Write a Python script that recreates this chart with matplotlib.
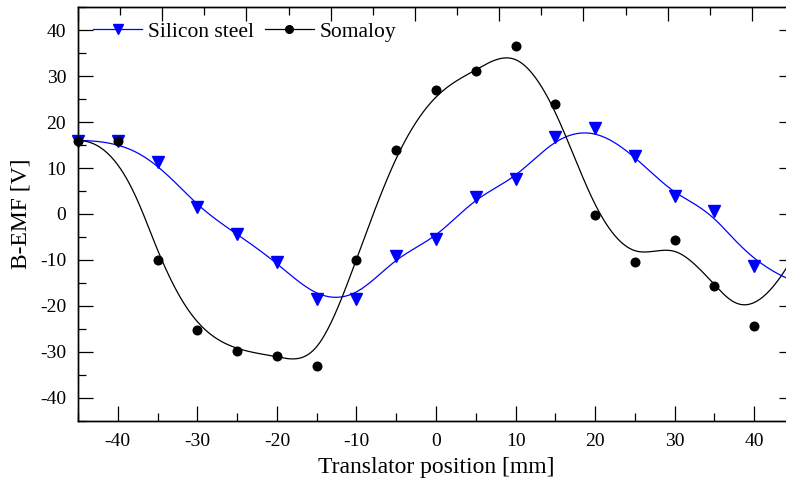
import numpy as np
import matplotlib
matplotlib.use("Agg")
import matplotlib.pyplot as plt
from matplotlib.ticker import MultipleLocator, NullFormatter

# ---- data ----
position_mm = [-45, -40, -35, -30, -25, -20, -15, -10, -5, 0, 5, 10, 15, 20, 25, 30, 35, 40, 45]
silicon_steel = [16.0, 16.0, 11.4, 1.5, -4.4, -10.5, -18.5, -18.5, -9.2, -5.4, 3.8, 7.6, 16.8, 18.7, 12.7, 3.9, 0.7, -11.3, -14.6]
somaloy = [16.0, 16.0, -10.0, -25.2, -29.8, -30.9, -33.1, -10.0, 13.9, 26.9, 31.2, 36.6, 24.0, -0.2, -10.5, -5.7, -15.6, -24.3, -9.0]

x_ticks = [-40, -30, -20, -10, 0, 10, 20, 30, 40]
y_ticks = [-40, -30, -20, -10, 0, 10, 20, 30, 40]


def bspline(xs, ys, k=3, num=800):
    """Clamped uniform B-spline using the data points as control points."""
    P = np.column_stack([xs, ys]).astype(float)
    n = len(P)
    inner = np.arange(1, n - k)
    knots = np.concatenate([np.zeros(k + 1), inner, np.full(k + 1, n - k)]).astype(float)
    t = np.linspace(0, n - k, num)
    t[-1] -= 1e-9

    def basis(i, p, tt):
        if p == 0:
            return ((knots[i] <= tt) & (tt < knots[i + 1])).astype(float)
        out = np.zeros_like(tt)
        d1 = knots[i + p] - knots[i]
        d2 = knots[i + p + 1] - knots[i + 1]
        if d1 > 0:
            out += (tt - knots[i]) / d1 * basis(i, p - 1, tt)
        if d2 > 0:
            out += (knots[i + p + 1] - tt) / d2 * basis(i + 1, p - 1, tt)
        return out

    B = np.array([basis(i, k, t) for i in range(n)])
    C = B.T @ P
    return C[:, 0], C[:, 1]


plt.rcParams['font.family'] = ['Liberation Serif', 'DejaVu Serif']
plt.rcParams['axes.unicode_minus'] = False

W, H = 786, 479
fig = plt.figure(figsize=(W / 100, H / 100), dpi=100)
left_px, right_px, top_px, bottom_px = 78, 794, 7.3, 420.7
ax = fig.add_axes([left_px / W, 1 - bottom_px / H, (right_px - left_px) / W, (bottom_px - top_px) / H])

sx, sy = bspline(position_mm, silicon_steel)
mx, my = bspline(position_mm, somaloy)

ax.plot(sx, sy, color='#0000ff', lw=0.9, zorder=2)
ax.plot(mx, my, color='black', lw=0.9, zorder=2)
ax.plot(position_mm, silicon_steel, ls='none', marker='v', ms=8, color='#0000ff', clip_on=False, zorder=3)
ax.plot(position_mm, somaloy, ls='none', marker='o', ms=6.2, color='black', clip_on=False, zorder=3)

# legend proxies
h1, = ax.plot([], [], color='#0000ff', lw=0.9, marker='v', ms=6.5, label='Silicon steel')
h2, = ax.plot([], [], color='black', lw=0.9, marker='o', ms=5.5, label='Somaloy')
leg = fig.legend(handles=[h1, h2], loc='center left', bbox_to_anchor=(93 / W, 1 - 31.7 / H), ncol=2,
                 frameon=False, fontsize=15.5, handlelength=2.28, handletextpad=0.28,
                 columnspacing=0.5, borderaxespad=0.0, borderpad=0.0, numpoints=1)

ax.set_xlim(-45, 45)
ax.set_ylim(-45, 45)
ax.set_xticks(x_ticks)
ax.set_yticks(y_ticks)
ax.xaxis.set_minor_locator(MultipleLocator(5))
ax.yaxis.set_minor_locator(MultipleLocator(5))
ax.tick_params(axis='both', which='major', direction='in', length=10.5, width=0.9, labelsize=14)
ax.tick_params(axis='x', which='major', pad=9)
ax.tick_params(axis='y', which='major', pad=8.5)
ax.tick_params(axis='both', which='minor', direction='in', length=5.5, width=0.9)
ax.tick_params(axis='y', which='both', right=True, labelright=False)
ax.tick_params(axis='x', which='both', top=False)
for s in ax.spines.values():
    s.set_linewidth(1.0)

# top axis with its own independent scale
ax2 = ax.twiny()
ax2.set_xlim(0, 8.5)
ax2.xaxis.set_major_locator(MultipleLocator(1))
ax2.xaxis.set_minor_locator(MultipleLocator(0.5))
ax2.xaxis.set_major_formatter(NullFormatter())
ax2.tick_params(axis='x', which='major', direction='in', length=10, width=0.9)
ax2.tick_params(axis='x', which='minor', direction='in', length=5.5, width=0.9)
for s in ax2.spines.values():
    s.set_linewidth(1.0)

ax.set_xlabel('Translator position [mm]', fontsize=17, labelpad=5)
ax.set_ylabel('B-EMF [V]', fontsize=17, labelpad=6)

fig.savefig('out.png', dpi=100)
